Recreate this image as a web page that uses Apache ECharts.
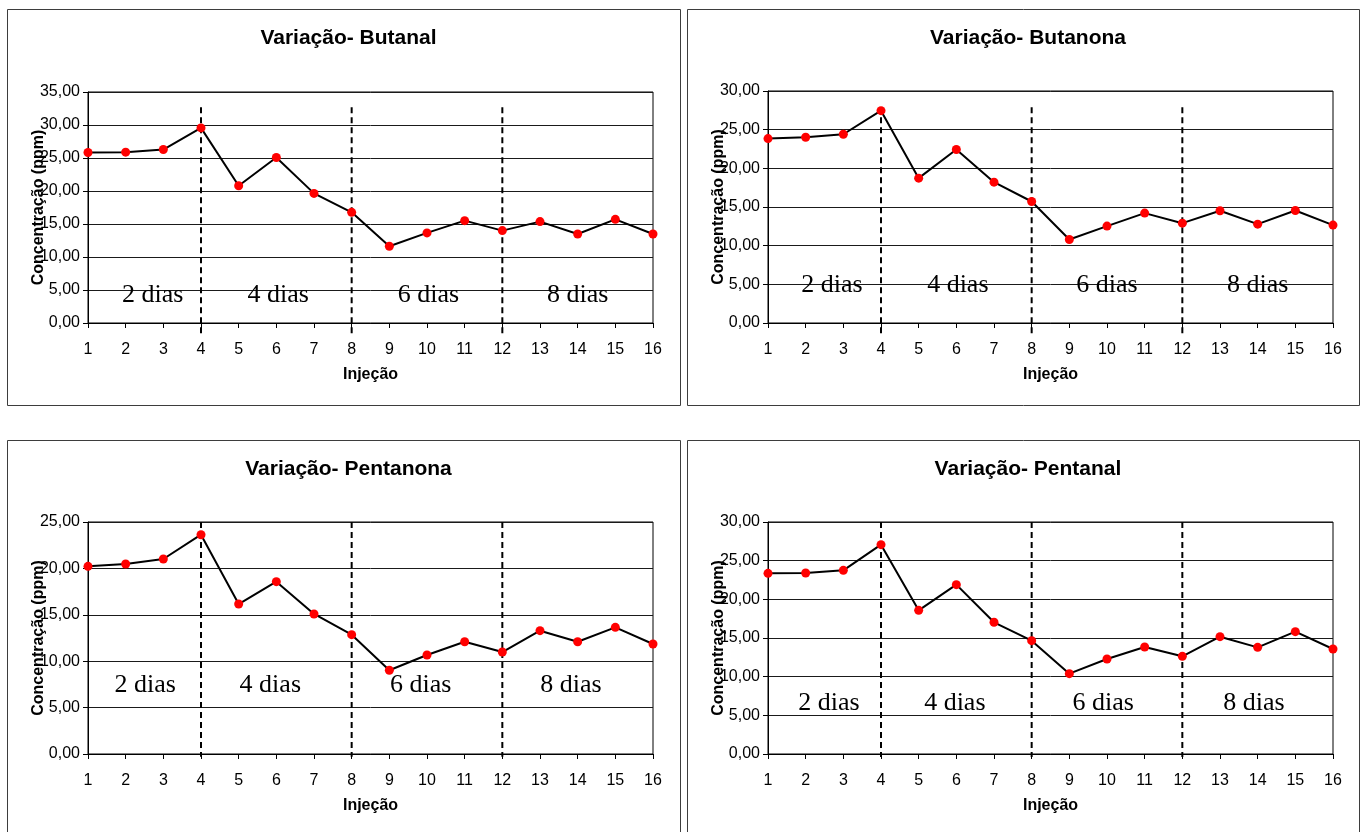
<!DOCTYPE html>
<html>
<head>
<meta charset="utf-8">
<title>Variação de concentração por injeção</title>
<script src="https://cdn.jsdelivr.net/npm/echarts@6/dist/echarts.min.js"></script>
<style>
  html, body { margin: 0; padding: 0; background: #ffffff; }
  #chart { width: 1361px; height: 832px; }
</style>
</head>
<body>
<div id="chart"></div>
<script>
// Injection number on the horizontal axis
const injections = [1, 2, 3, 4, 5, 6, 7, 8, 9, 10, 11, 12, 13, 14, 15, 16];

// Concentration (ppm) per injection for each compound
const butanal   = [25.83, 25.88, 26.28, 29.56, 20.80, 25.08, 19.64, 16.77, 11.63, 13.65, 15.51, 14.00, 15.36, 13.49, 15.71, 13.49];
const butanona  = [23.85, 24.02, 24.41, 27.46, 18.73, 22.43, 18.21, 15.71, 10.80, 12.53, 14.21, 12.91, 14.51, 12.78, 14.55, 12.66];
const pentanona = [20.22, 20.47, 21.01, 23.63, 16.16, 18.57, 15.09, 12.86,  9.02, 10.67, 12.10, 10.99, 13.29, 12.10, 13.65, 11.85];
const pentanal  = [23.36, 23.41, 23.75, 27.07, 18.58, 21.90, 17.03, 14.66, 10.39, 12.28, 13.84, 12.63, 15.17, 13.79, 15.82, 13.58];

// Storage periods and the injections that close each one
const periodLabels = ['2 dias', '4 dias', '6 dias', '8 dias'];
const periodBreaks = [4, 8, 12];

// Y axis ranges per chart
const yMaxButanal = 35, yMaxButanona = 30, yMaxPentanona = 25, yMaxPentanal = 30;

const FONT = '"Liberation Sans", Arial, sans-serif';
const SERIF = '"Liberation Serif", "Times New Roman", serif';

// Layout of the four panels: frame, plot area, separator extents, label anchors
const panels = [
  { title: 'Variação- Butanal', values: butanal, yMax: yMaxButanal,
    frame: [7, 9, 673, 396], grid: [88, 92, 565, 231],
    sepTop: 32.7, sepBottom: -1.6,
    labelAt: [[2.72, 4.2], [6.05, 4.2], [10.04, 4.2], [14.0, 4.2]] },
  { title: 'Variação- Butanona', values: butanona, yMax: yMaxButanona,
    frame: [687, 9, 672, 396], grid: [768, 91, 565, 232],
    sepTop: 27.9, sepBottom: -1.5,
    labelAt: [[2.70, 4.9], [6.04, 4.9], [10.0, 4.9], [14.0, 4.9]] },
  { title: 'Variação- Pentanona', values: pentanona, yMax: yMaxPentanona,
    frame: [7, 440, 673, 420], grid: [88, 522, 565, 232],
    sepTop: 25, sepBottom: -0.3,
    labelAt: [[2.52, 7.4], [5.84, 7.4], [9.83, 7.4], [13.82, 7.4]] },
  { title: 'Variação- Pentanal', values: pentanal, yMax: yMaxPentanal,
    frame: [687, 440, 672, 420], grid: [768, 522, 565, 232],
    sepTop: 30, sepBottom: -0.4,
    labelAt: [[2.62, 6.6], [5.96, 6.6], [9.9, 6.6], [13.9, 6.6]] }
];

const chart = echarts.init(document.getElementById('chart'), null, { renderer: 'canvas' });

const option = {
  animation: false,
  backgroundColor: '#ffffff',
  title: [],
  grid: [],
  xAxis: [],
  yAxis: [],
  series: [],
  graphic: []
};

panels.forEach((p, i) => {
  const [fx, fy, fw, fh] = p.frame;
  const [gl, gt, gw, gh] = p.grid;

  option.graphic.push({
    type: 'rect', silent: true, z: -10,
    shape: { x: fx + 0.5, y: fy + 0.5, width: fw, height: fh },
    style: { fill: '#ffffff', stroke: '#3d3d3d', lineWidth: 1 }
  });

  option.title.push({
    text: p.title,
    left: fx + fw / 2, top: fy + 14,
    textAlign: 'center',
    textStyle: { fontFamily: FONT, fontWeight: 'bold', fontSize: 21, color: '#000' }
  });

  option.grid.push({
    left: gl, top: gt, width: gw, height: gh,
    show: true, borderColor: '#000', borderWidth: 1, backgroundColor: 'transparent'
  });

  option.xAxis.push({
    type: 'value', gridIndex: i, min: 1, max: 16, interval: 1,
    name: 'Injeção', nameLocation: 'middle', nameGap: 44,
    nameTextStyle: { fontFamily: FONT, fontWeight: 'bold', fontSize: 16, color: '#000' },
    axisLine: { show: true, onZero: false, lineStyle: { color: '#000', width: 1 } },
    axisTick: { show: true, inside: false, length: 5, lineStyle: { color: '#000' } },
    axisLabel: { fontFamily: FONT, fontSize: 16, color: '#000', margin: 19, showMinLabel: true, showMaxLabel: true },
    splitLine: { show: false }
  });

  option.yAxis.push({
    type: 'value', gridIndex: i, min: 0, max: p.yMax, interval: 5,
    name: 'Concentração (ppm)', nameLocation: 'middle', nameGap: 41, nameRotate: 90,
    nameMoveOverlap: false,
    nameTextStyle: { fontFamily: FONT, fontWeight: 'bold', fontSize: 16, color: '#000' },
    axisLine: { show: true, lineStyle: { color: '#000', width: 1 } },
    axisTick: { show: true, inside: false, length: 5, lineStyle: { color: '#000' } },
    axisLabel: {
      fontFamily: FONT, fontSize: 16, color: '#000', margin: 8,
      formatter: v => v.toFixed(2).replace('.', ',')
    },
    splitLine: { show: true, lineStyle: { color: '#1a1a1a', width: 1 } }
  });

  // Dashed separators between storage periods
  option.series.push({
    type: 'custom', xAxisIndex: i, yAxisIndex: i, clip: false, silent: true, z: 3,
    data: periodBreaks.map(b => [b, p.sepTop, p.sepBottom]),
    encode: { x: 0, y: [1, 2] },
    renderItem: (params, api) => {
      const a = api.coord([api.value(0), api.value(1)]);
      const b = api.coord([api.value(0), api.value(2)]);
      return {
        type: 'line',
        shape: { x1: a[0], y1: a[1], x2: b[0], y2: b[1] },
        style: { stroke: '#000', lineWidth: 2, lineDash: [6, 4] }
      };
    }
  });

  // Period names written inside each band
  option.series.push({
    type: 'custom', xAxisIndex: i, yAxisIndex: i, clip: false, silent: true, z: 4,
    data: p.labelAt,
    encode: { x: 0, y: 1 },
    renderItem: (params, api) => {
      const c = api.coord([api.value(0), api.value(1)]);
      return {
        type: 'text', x: c[0], y: c[1],
        style: {
          text: periodLabels[params.dataIndex],
          fill: '#000', font: '26px ' + SERIF,
          align: 'center', verticalAlign: 'middle',
          textAlign: 'center', textVerticalAlign: 'middle'
        }
      };
    }
  });

  // Concentration series
  option.series.push({
    type: 'line', xAxisIndex: i, yAxisIndex: i, z: 10,
    data: injections.map((x, k) => [x, p.values[k]]),
    symbol: 'circle', symbolSize: 9,
    lineStyle: { color: '#000', width: 2 },
    itemStyle: { color: '#ff0000', borderWidth: 0 }
  });
});

chart.setOption(option);
</script>
</body>
</html>
